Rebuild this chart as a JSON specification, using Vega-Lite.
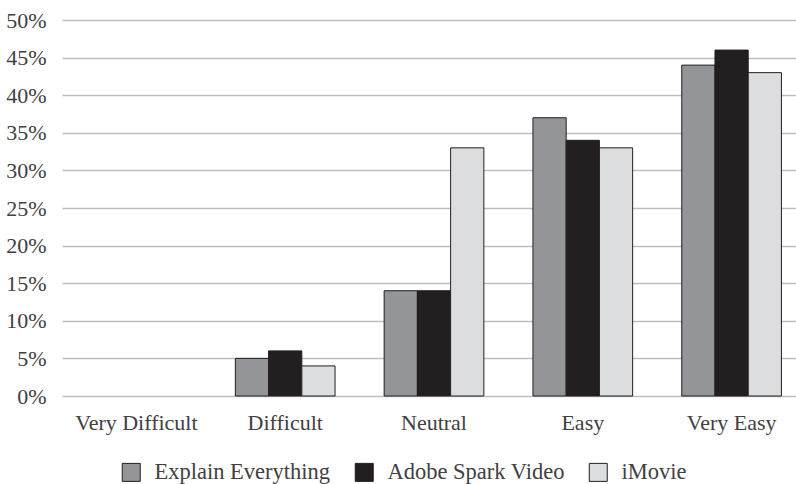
{
  "$schema": "https://vega.github.io/schema/vega-lite/v6.json",
  "width": 744,
  "height": 376,
  "autosize": {"type": "none"},
  "padding": {"left": 62, "top": 20, "right": 0, "bottom": 88},
  "background": "white",
  "config": {
    "view": {"stroke": null},
    "font": "Liberation Serif",
    "axis": {"labelFont": "Liberation Serif", "labelColor": "#414042", "labelFontSize": 22},
    "legend": {"labelFont": "Liberation Serif", "labelColor": "#414042", "labelFontSize": 22.5}
  },
  "data": {
    "values": [
      {"rating": "Very Difficult", "tool": "Explain Everything", "pct": 0},
      {"rating": "Very Difficult", "tool": "Adobe Spark Video", "pct": 0},
      {"rating": "Very Difficult", "tool": "iMovie", "pct": 0},
      {"rating": "Difficult", "tool": "Explain Everything", "pct": 0.05},
      {"rating": "Difficult", "tool": "Adobe Spark Video", "pct": 0.06},
      {"rating": "Difficult", "tool": "iMovie", "pct": 0.04},
      {"rating": "Neutral", "tool": "Explain Everything", "pct": 0.14},
      {"rating": "Neutral", "tool": "Adobe Spark Video", "pct": 0.14},
      {"rating": "Neutral", "tool": "iMovie", "pct": 0.33},
      {"rating": "Easy", "tool": "Explain Everything", "pct": 0.37},
      {"rating": "Easy", "tool": "Adobe Spark Video", "pct": 0.34},
      {"rating": "Easy", "tool": "iMovie", "pct": 0.33},
      {"rating": "Very Easy", "tool": "Explain Everything", "pct": 0.44},
      {"rating": "Very Easy", "tool": "Adobe Spark Video", "pct": 0.46},
      {"rating": "Very Easy", "tool": "iMovie", "pct": 0.43}
    ]
  },
  "mark": {"type": "bar", "stroke": "#231f20", "strokeWidth": 1},
  "encoding": {
    "x": {
      "field": "rating", "type": "nominal",
      "sort": ["Very Difficult", "Difficult", "Neutral", "Easy", "Very Easy"],
      "scale": {"paddingInner": 0.33, "paddingOuter": 0.165},
      "axis": {"title": null, "labelAngle": 0, "domain": false, "ticks": false, "labelPadding": 16}
    },
    "xOffset": {
      "field": "tool", "type": "nominal",
      "sort": ["Explain Everything", "Adobe Spark Video", "iMovie"],
      "scale": {"paddingInner": 0, "paddingOuter": 0}
    },
    "y": {
      "field": "pct", "type": "quantitative",
      "scale": {"domain": [0, 0.5], "nice": false},
      "axis": {
        "title": null, "format": ".0%", "values": [0, 0.05, 0.1, 0.15, 0.2, 0.25, 0.3, 0.35, 0.4, 0.45, 0.5],
        "domain": false, "ticks": false, "labelPadding": 16,
        "grid": true, "gridColor": "#bcbec0", "gridWidth": 1.5
      }
    },
    "strokeOpacity": {
      "condition": {"test": "datum.pct > 0", "value": 1},
      "value": 0
    },
    "fill": {
      "field": "tool", "type": "nominal",
      "sort": ["Explain Everything", "Adobe Spark Video", "iMovie"],
      "scale": {"domain": ["Explain Everything", "Adobe Spark Video", "iMovie"], "range": ["#939598", "#231f20", "#dcddde"]},
      "legend": {
        "title": null, "orient": "none", "direction": "horizontal",
        "legendX": 58, "legendY": 441, "labelLimit": 300,
        "symbolType": "square", "symbolSize": 324, "symbolStrokeColor": "#231f20", "symbolStrokeWidth": 1,
        "symbolOpacity": 1, "labelOffset": 12, "columnPadding": 22
      }
    }
  }
}
